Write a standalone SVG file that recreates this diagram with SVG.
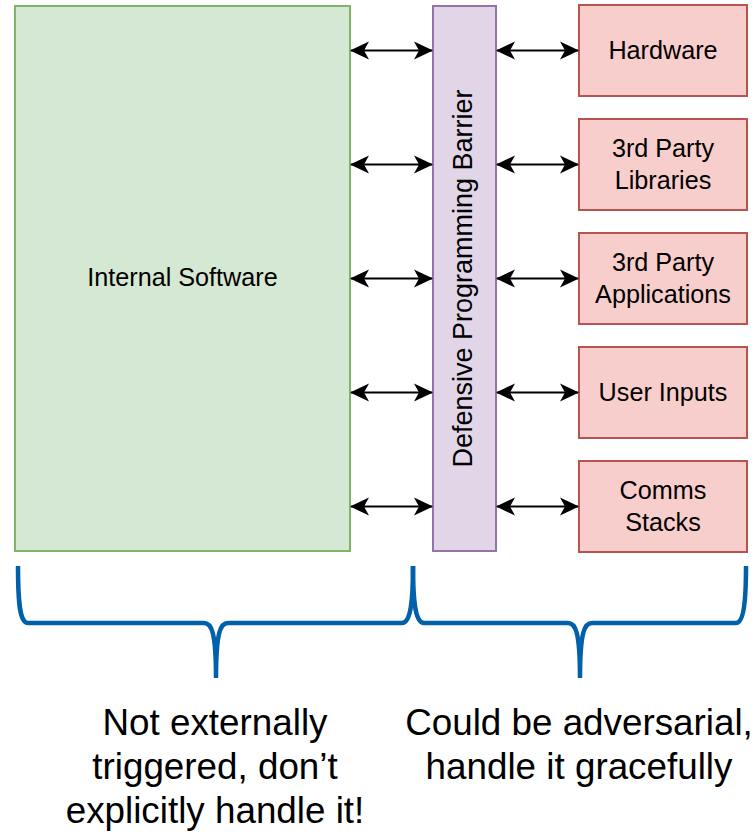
<svg xmlns="http://www.w3.org/2000/svg" width="755" height="833" viewBox="0 0 755 833">
  <style>
    .lbl { font-family: "Liberation Sans", Arial, sans-serif; font-size: 25.2px; fill: #000; text-anchor: middle; }
    .big { font-family: "Liberation Sans", Arial, sans-serif; font-size: 36.8px; fill: #000; text-anchor: middle; }
    .green { fill: #d5e8d4; stroke: #82b366; stroke-width: 2; }
    .purple { fill: #e1d5e7; stroke: #9673a6; stroke-width: 2; }
    .red { fill: #f8cecc; stroke: #b85450; stroke-width: 2; }
    .link { stroke: #000; stroke-width: 2; fill: none; marker-start: url(#head); marker-end: url(#head); }
    .brace { stroke: #0060aa; stroke-width: 4.5; fill: none; stroke-linejoin: round; }
  </style>
  <defs>
    <marker id="head" viewBox="0 0 19 20" refX="18" refY="10" markerWidth="19" markerHeight="20" markerUnits="userSpaceOnUse" orient="auto-start-reverse">
      <path d="M0,1 L19,10 L0,19 L5,10 Z" fill="#000"/>
    </marker>
  </defs>

  <!-- internal software block -->
  <g id="internal-software">
    <rect class="green" x="15" y="6" width="335" height="545"/>
    <text class="lbl" x="182.5" y="286">Internal Software</text>
  </g>

  <!-- barrier column -->
  <g id="barrier">
    <rect class="purple" x="433" y="6" width="63" height="545"/>
    <text class="lbl" style="font-size:27px" transform="translate(472,278.5) rotate(-90)">Defensive Programming Barrier</text>
  </g>

  <!-- external sources -->
  <g id="hardware">
    <rect class="red" x="579" y="5" width="168" height="91"/>
    <text class="lbl" x="663" y="59">Hardware</text>
  </g>
  <g id="libraries">
    <rect class="red" x="579" y="119" width="168" height="91"/>
    <text class="lbl" x="663" y="157">3rd Party</text>
    <text class="lbl" x="663" y="189">Libraries</text>
  </g>
  <g id="applications">
    <rect class="red" x="579" y="233" width="168" height="91"/>
    <text class="lbl" x="663" y="271">3rd Party</text>
    <text class="lbl" x="663" y="303">Applications</text>
  </g>
  <g id="user-inputs">
    <rect class="red" x="579" y="347" width="168" height="91"/>
    <text class="lbl" x="663" y="401">User Inputs</text>
  </g>
  <g id="comms-stacks">
    <rect class="red" x="579" y="461" width="168" height="91"/>
    <text class="lbl" x="663" y="499">Comms</text>
    <text class="lbl" x="663" y="531">Stacks</text>
  </g>

  <!-- bidirectional links -->
  <g id="connectors">
    <path class="link" d="M351,50.5 H432"/>
    <path class="link" d="M351,164.5 H432"/>
    <path class="link" d="M351,278.5 H432"/>
    <path class="link" d="M351,392.5 H432"/>
    <path class="link" d="M351,506.5 H432"/>
    <path class="link" d="M497,50.5 H578"/>
    <path class="link" d="M497,164.5 H578"/>
    <path class="link" d="M497,278.5 H578"/>
    <path class="link" d="M497,392.5 H578"/>
    <path class="link" d="M497,506.5 H578"/>
  </g>

  <!-- braces -->
  <g id="braces">
    <path class="brace" d="M18,566 C18,605 20,623 28,623 L204,623 C211,623 216,630 216,678 M216,678 C216,630 221,623 228,623 L402,623 C410,623 413,605 413,566"/>
    <path class="brace" d="M413,566 C413,605 416,623 424,623 L568,623 C575,623 580,630 580,678 M580,678 C580,630 585,623 592,623 L736,623 C743,623 746,605 746,566"/>
  </g>

  <!-- captions -->
  <g id="captions">
    <text class="big" x="215" y="735">Not externally</text>
    <text class="big" x="215" y="779">triggered, don’t</text>
    <text class="big" x="215" y="823">explicitly handle it!</text>
    <text class="big" x="579" y="735">Could be adversarial,</text>
    <text class="big" x="579" y="779">handle it gracefully</text>
  </g>
</svg>
